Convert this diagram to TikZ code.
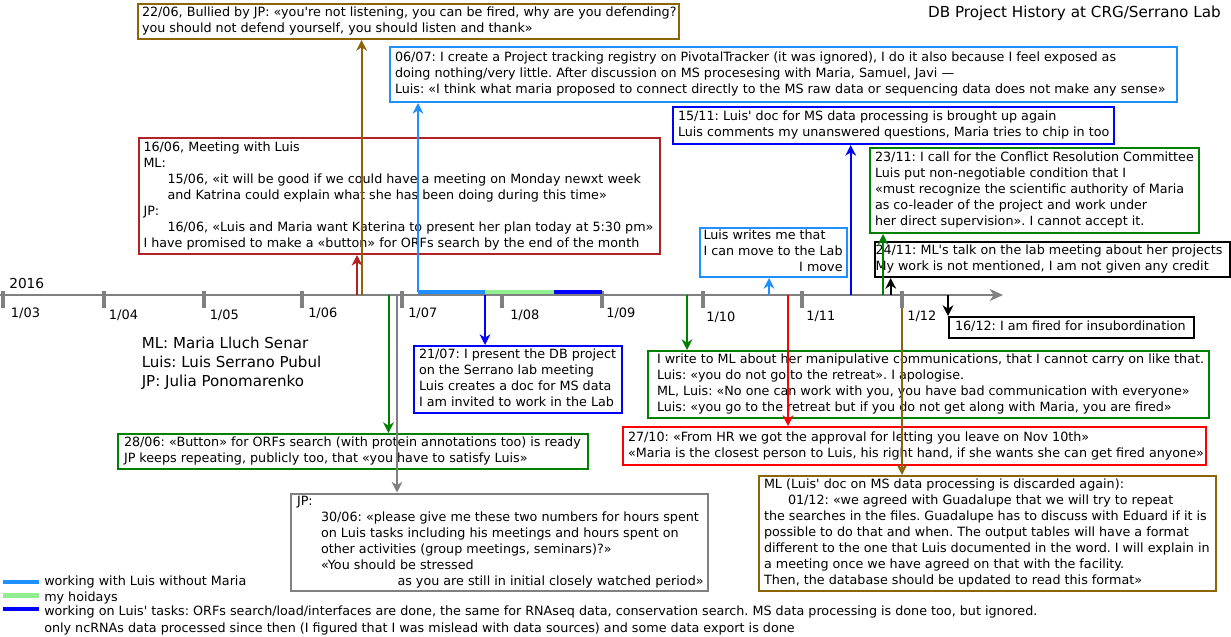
\documentclass[tikz,border=0pt]{standalone}
\usepackage{fontspec}
\newfontfamily\dv{DejaVu Sans}
\usetikzlibrary{arrows.meta}
\frenchspacing
\newdimen\pxu \pxu=0.75pt
\newcommand\evfont{\dv\fontsize{9.55}{12}\selectfont}
\newcommand\bigfont{\dv\fontsize{11.4}{14.25}\selectfont}
\newcommand\boxlines[2]{\makebox[#1\pxu][l]{\begin{tabular}{@{}l@{}}#2\end{tabular}}}
\newcommand\ind{\hspace*{24\pxu}}
\definecolor{dbrown}{HTML}{8B6508}
\definecolor{fbrick}{HTML}{B22222}
\definecolor{dblue}{HTML}{1E90FF}
\definecolor{lgreen}{HTML}{90EE90}
\definecolor{dgreen}{HTML}{008000}
\definecolor{mgray}{HTML}{808080}
\begin{document}
\begin{tikzpicture}[x=0.75pt,y=-0.75pt,
  evbox/.style={draw=#1, line width=1.5pt, inner ysep=0pt, anchor=north west, font=\evfont},
  arr/.style={line width=1.5pt, -{Stealth[length=8pt,width=8pt,inset=2.5pt]}},
  tick/.style={mgray, line width=3pt},
  tlab/.style={anchor=west, inner sep=0pt, font=\dv\fontsize{9.7}{11}\selectfont},
  leglab/.style={anchor=west, inner sep=0pt, font=\dv\fontsize{9.55}{12}\selectfont},
  legbar/.style={line width=3.5pt}]
\useasboundingbox (0,0) rectangle (1231,636);
\fill[white] (0,0) rectangle (1231,636);

% title and legend
\node[anchor=east, inner sep=0pt, font=\bigfont] (title) at (1221,13) {DB Project History at CRG/Serrano Lab};
\node[anchor=west, inner sep=0pt, align=left, font=\dv\fontsize{11.3}{14.25}\selectfont] (names) at (141.5,363.5) {ML: Maria Lluch Senar\\Luis: Luis Serrano Pubul\\JP: Julia Ponomarenko};
\node[anchor=west, inner sep=0pt, font=\dv\fontsize{10.3}{12}\selectfont] (year) at (9,283) {2016};

% event boxes
\node[evbox=dbrown, inner xsep=4\pxu, minimum height=35\pxu] (b2206) at (137,3) {\boxlines{533}{22/06, Bullied by JP: «you're not listening, you can be fired, why are you defending?\\you should not defend yourself, you should listen and thank»}};

\node[evbox=dblue, inner xsep=5\pxu, minimum height=55\pxu] (b0607) at (389,46) {\boxlines{777}{06/07: I create a Project tracking registry on PivotalTracker (it was ignored), I do it also because I feel exposed as\\doing nothing/very little. After discussion on MS procesesing with Maria, Samuel, Javi —\\Luis: «I think what maria proposed to connect directly to the MS raw data or sequencing data does not make any sense»}};

\node[evbox=fbrick, inner xsep=5\pxu, minimum height=116\pxu] (b1606) at (137.5,137) {\boxlines{511}{16/06, Meeting with Luis\\ML:\\ \ind 15/06, «it will be good if we could have a meeting on Monday newxt week\\ \ind and Katrina could explain what she has been doing during this time»\\JP:\\ \ind 16/06, «Luis and Maria want Katerina to present her plan today at 5:30 pm»\\I have promised to make a «button» for ORFs search by the end of the month}};

\node[evbox=blue, inner xsep=5\pxu, minimum height=37\pxu] (b1511) at (672,106) {\boxlines{431}{15/11: Luis' doc for MS data processing is brought up again\\Luis comments my unanswered questions, Maria tries to chip in too}};

\node[evbox=dgreen, inner xsep=5\pxu, minimum height=85\pxu] (b2311) at (869,147) {\boxlines{319}{23/11: I call for the Conflict Resolution Committee\\Luis put non-negotiable condition that I\\«must recognize the scientific authority of Maria\\as co-leader of the project and work under\\her direct supervision». I cannot accept it.}};

\node[evbox=dblue, inner xsep=3.5\pxu, minimum height=49\pxu] (bluis) at (699,227) {\boxlines{140}{Luis writes me that\\I can move to the Lab\\\multicolumn{1}{@{}r@{}}{I move}}};

\node[evbox=black, inner xsep=0.5\pxu, minimum height=35\pxu] (b2411) at (874,241) {\boxlines{354}{24/11: ML's talk on the lab meeting about her projects\\My work is not mentioned, I am not given any credit}};

\node[evbox=black, inner xsep=6\pxu, minimum height=21\pxu] (b1612) at (948,316) {\boxlines{233}{16/12: I am fired for insubordination}};

\node[evbox=blue, inner xsep=5\pxu, minimum height=67\pxu] (b2107) at (413,345) {\boxlines{198}{21/07: I present the DB project\\on the Serrano lab meeting\\Luis creates a doc for MS data\\I am invited to work in the Lab}};

\node[evbox=dgreen, inner xsep=9\pxu, minimum height=67\pxu] (bwrite) at (647,350) {\boxlines{543}{I write to ML about her manipulative communications, that I cannot carry on like that.\\Luis: «you do not go to the retreat». I apologise.\\ML, Luis: «No one can work with you, you have bad communication with everyone»\\Luis: «you go to the retreat but if you do not get along with Maria, you are fired»}};

\node[evbox=red, inner xsep=5\pxu, minimum height=38\pxu] (b2710) at (622,426) {\boxlines{573}{27/10: «From HR we got the approval for letting you leave on Nov 10th»\\«Maria is the closest person to Luis, his right hand, if she wants she can get fired anyone»}};

\node[evbox=dgreen, inner xsep=6\pxu, minimum height=35\pxu] (b2806) at (117,433) {\boxlines{458}{28/06: «Button» for ORFs search (with protein annotations too) is ready\\JP keeps repeating, publicly too, that «you have to satisfy Luis»}};

\node[evbox=mgray, inner xsep=6\pxu, minimum height=97.5\pxu] (b3006) at (290,492.5) {\boxlines{405}{JP:\\ \ind 30/06: «please give me these two numbers for hours spent\\ \ind on Luis tasks including his meetings and hours spent on\\ \ind other activities (group meetings, seminars)?»\\ \ind «You should be stressed\\ \hspace*{100.5\pxu}as you are still in initial closely watched period»}};

\node[evbox=dbrown, inner xsep=5\pxu, minimum height=115\pxu] (bml) at (758,475) {\boxlines{447}{ML (Luis' doc on MS data processing is discarded again):\\ \ind 01/12: «we agreed with Guadalupe that we will try to repeat\\the searches in the files. Guadalupe has to discuss with Eduard if it is\\possible to do that and when. The output tables will have a format\\different to the one that Luis documented in the word. I will explain in\\a meeting once we have agreed on that with the facility.\\Then, the database should be updated to read this format»}};

% time axis
\coordinate (axstart) at (0,295);
\coordinate (axend) at (1003,295);
\draw[mgray, line width=1.5pt, -{Stealth[length=10pt,width=9pt,inset=3pt]}] (axstart) -- (axend);
\foreach \tx/\lx/\ly/\lab in {2.8/10.7/313/1\slash 03, 103.6/108.7/315/1\slash 04, 204/209.5/315/1\slash 05, 302.4/308/313/1\slash 06, 402.4/408/313/1\slash 07, 502/510/315/1\slash 08, 601.6/606/313/1\slash 09, 702.7/706/317/1\slash 10, 801.7/806/316/1\slash 11, 901.7/907/316/1\slash 12}{
  \draw[tick] (\tx,291) -- (\tx,308);
  \node[tlab] at (\lx,\ly) {\lab};
}

% period bars
\coordinate (p1) at (418,292);
\coordinate (p2) at (485,292);
\coordinate (p3) at (554,292);
\coordinate (p4) at (602,292);
\draw[dblue, line width=2.6pt] (p1) -- (p2);
\draw[lgreen, line width=2.6pt] (p2) -- (p3);
\draw[blue, line width=2.6pt] (p3) -- (p4);

% event anchors on the axis
\coordinate (e1606) at (357,295);
\coordinate (e2206) at (361.6,295);
\coordinate (e2806) at (388.5,295);
\coordinate (e3006) at (397,295);
\coordinate (e2107) at (485,295);
\coordinate (ewrite) at (687,295);
\coordinate (eluis) at (769,295);
\coordinate (e2710) at (788,295);
\coordinate (e1511) at (850.7,295);
\coordinate (e2311) at (883,295);
\coordinate (e2411) at (890.7,295);
\coordinate (e0112) at (902,308);
\coordinate (e1612) at (948,295);

% connectors
\draw[arr, fbrick] (e1606) -- (b1606.south -| e1606);
\draw[arr, dbrown] (e2206) -- (b2206.south -| e2206);
\draw[arr, dgreen] (e2806) -- (b2806.north -| e2806);
\draw[arr, mgray] (e3006) -- (b3006.north -| e3006);
\draw[arr, dblue] (p1) -- (b0607.south -| p1);
\draw[arr, blue] (e2107) -- (b2107.north -| e2107);
\draw[arr, dgreen] (ewrite) -- (bwrite.north -| ewrite);
\draw[arr, dblue] (eluis) -- (bluis.south -| eluis);
\draw[arr, red] (e2710) -- (b2710.north -| e2710);
\draw[arr, blue] (e1511) -- (b1511.south -| e1511);
\draw[arr, dgreen] (e2311) -- (b2311.south -| e2311);
\draw[arr, black] (e2411) -- (b2411.south -| e2411);
\draw[arr, dbrown] (e0112) -- (bml.north -| e0112);
\draw[arr, black] (e1612) -- (b1612.north -| e1612);

% bottom legend
\draw[legbar, dblue] (3,582) -- (39,582);
\draw[legbar, lgreen] (3,595.5) -- (39,595.5);
\draw[legbar, blue] (3,609) -- (39,609);
\node[leglab] (l1) at (44,582) {working with Luis without Maria};
\node[leglab] (l2) at (44,597.5) {my hoidays};
\node[leglab] (l3) at (44,612) {working on Luis' tasks: ORFs search/load/interfaces are done, the same for RNAseq data, conservation search. MS data processing is done too, but ignored.};
\node[leglab] (l4) at (44,629) {only ncRNAs data processed since then (I figured that I was mislead with data sources) and some data export is done};
\end{tikzpicture}
\end{document}
